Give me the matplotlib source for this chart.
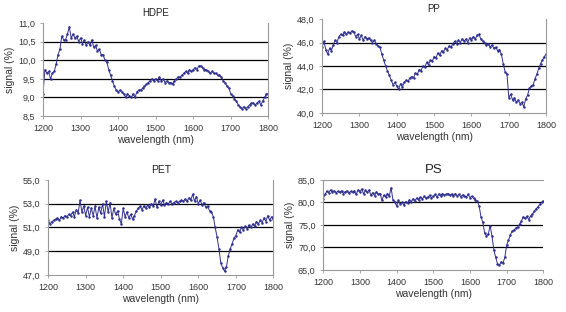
import numpy as np
import matplotlib.pyplot as plt
from matplotlib.ticker import FuncFormatter

plt.rcParams['font.family'] = ['Liberation Sans', 'DejaVu Sans']

# wavelength grid (nm), 5 nm steps
wl = np.arange(1200, 1805, 5)

hdpe = [9.10, 9.75, 9.65, 9.70, 9.50, 9.65, 9.70, 9.90, 10.15, 10.30,
        10.65, 10.55, 10.55, 10.70, 10.90, 10.60, 10.70, 10.60, 10.65, 10.50,
        10.60, 10.45, 10.55, 10.40, 10.50, 10.40, 10.55, 10.35, 10.40, 10.25,
        10.30, 10.15, 10.15, 10.00, 9.95, 9.75, 9.60, 9.45, 9.30, 9.20,
        9.15, 9.20, 9.15, 9.10, 9.00, 9.10, 9.05, 9.00, 9.10, 9.00,
        9.15, 9.20, 9.20, 9.25, 9.30, 9.35, 9.40, 9.45, 9.50, 9.45,
        9.50, 9.45, 9.55, 9.45, 9.50, 9.40, 9.45, 9.40, 9.40, 9.35,
        9.45, 9.50, 9.55, 9.55, 9.60, 9.65, 9.70, 9.65, 9.75, 9.70,
        9.75, 9.80, 9.75, 9.85, 9.85, 9.80, 9.75, 9.75, 9.70, 9.65,
        9.70, 9.65, 9.65, 9.60, 9.60, 9.55, 9.45, 9.40, 9.30, 9.25,
        9.10, 9.05, 8.95, 8.90, 8.80, 8.75, 8.70, 8.75, 8.70, 8.75,
        8.80, 8.85, 8.85, 8.80, 8.85, 8.90, 8.80, 8.90, 9.00, 9.10,
        9.10]

pp = [45.6, 46.1, 45.4, 45.0, 45.5, 45.3, 45.8, 46.2, 46.0, 46.5,
      46.7, 46.6, 46.9, 46.7, 46.9, 46.8, 47.0, 46.9, 46.5, 46.7,
      46.3, 46.6, 46.2, 46.5, 46.3, 46.4, 46.2, 46.0, 46.2, 45.9,
      45.7, 45.6, 45.0, 44.5, 44.0, 43.6, 43.2, 42.8, 42.4, 42.6,
      42.3, 42.0, 42.5, 42.2, 42.6, 42.8, 42.7, 43.0, 43.1, 43.0,
      43.4, 43.3, 43.7, 43.6, 44.0, 43.9, 44.3, 44.1, 44.5, 44.4,
      44.8, 44.7, 45.1, 44.9, 45.3, 45.2, 45.5, 45.4, 45.7, 45.6,
      45.9, 46.1, 45.9, 46.2, 46.0, 46.3, 46.1, 46.3, 46.0, 46.4,
      46.2, 46.5, 46.3, 46.6, 46.7, 46.3, 46.1, 46.0, 45.8, 45.9,
      45.6, 45.8, 45.5, 45.6, 45.3, 45.4, 45.0, 44.2, 43.5, 43.3,
      41.3, 41.6, 41.1, 41.3, 40.9, 41.1, 40.8, 40.9, 40.5, 41.2,
      41.5, 42.1, 42.3, 42.4, 42.9, 43.3, 43.8, 44.2, 44.5, 44.8,
      45.0]

pet = [51.6, 51.3, 51.5, 51.6, 51.7, 51.8, 51.6, 51.9, 51.8, 52.0,
       51.9, 52.1, 52.0, 52.3, 51.9, 52.5, 52.2, 53.3, 52.3, 52.8,
       52.0, 52.7, 51.9, 52.6, 52.0, 52.8, 51.8, 52.7, 52.2, 53.0,
       51.9, 53.2, 52.3, 53.1, 51.8, 52.6, 52.1, 52.4, 51.7, 51.3,
       52.6, 51.9, 52.3, 51.8, 52.1, 51.7, 52.0, 52.4, 52.6, 52.8,
       52.5, 52.8, 52.6, 52.9, 52.7, 53.0, 52.8, 53.4, 52.7, 53.2,
       52.9, 53.3, 52.9, 53.1, 53.0, 53.2, 53.0, 53.1, 53.2, 53.1,
       53.2, 53.3, 53.2, 53.4, 53.2, 53.5, 53.3, 53.8, 53.2, 53.6,
       53.0, 53.3, 52.9, 53.1, 52.7, 52.8, 52.4, 52.3, 51.9, 51.0,
       50.2, 49.2, 48.0, 47.6, 47.3, 47.7, 48.6, 49.2, 49.6, 50.1,
       50.3, 50.8, 50.6, 51.0, 50.8, 51.1, 50.9, 51.2, 51.0, 51.3,
       51.1, 51.5, 51.3, 51.6, 51.4, 51.8, 51.5, 52.0, 51.6, 51.9,
       51.7]

ps = [80.8, 81.8, 82.5, 82.2, 82.8, 82.4, 82.6, 82.2, 82.5, 82.3,
      82.6, 82.0, 82.4, 82.6, 82.1, 82.5, 82.3, 82.6, 81.8, 82.8,
      82.4, 83.0, 81.9, 82.7, 82.3, 82.8, 81.6, 82.2, 81.5, 82.4,
      81.8, 82.0, 80.5, 81.6, 81.2, 82.0, 81.4, 83.3, 80.6, 80.2,
      79.2, 80.5, 79.6, 80.0, 79.4, 80.2, 79.8, 80.6, 80.2, 80.8,
      80.4, 81.0, 80.6, 81.2, 80.8, 81.4, 81.0, 81.2, 81.6, 81.0,
      81.4, 81.8, 81.2, 81.9, 81.5, 82.0, 81.6, 81.8, 82.0, 81.6,
      81.9, 81.4, 82.0, 81.5, 81.8, 81.3, 81.7, 81.5, 81.2, 81.8,
      81.1, 81.4, 80.9, 80.6, 80.3, 79.2, 76.8, 75.6, 73.2, 72.6,
      73.0, 74.8, 72.5, 69.5, 67.8, 66.4, 66.0, 66.8, 66.5, 67.8,
      70.5, 71.6, 72.8, 73.6, 73.9, 74.3, 74.6, 75.2, 75.8, 76.8,
      76.5, 76.9, 76.2, 77.0, 77.4, 78.0, 78.6, 79.0, 79.6, 80.0,
      80.4]

titles = ['HDPE', 'PP', 'PET', 'PS']
series = [hdpe, pp, pet, ps]
ylims = [(8.5, 11.0), (40.0, 48.0), (47.0, 55.0), (65.0, 85.0)]
ysteps = [0.5, 2.0, 2.0, 5.0]

# axes rectangles in figure fractions (from pixel positions)
rects = [(0.076, 0.628, 0.398, 0.298),
         (0.569, 0.638, 0.396, 0.301),
         (0.085, 0.119, 0.398, 0.304),
         (0.571, 0.135, 0.389, 0.288)]
title_sizes = [7, 7, 7.5, 9.5]

fig = plt.figure(figsize=(5.66, 3.12), dpi=100)
comma = FuncFormatter(lambda v, p: f"{v:.1f}".replace('.', ','))

for i in range(4):
    ax = fig.add_axes(rects[i])
    ax.plot(wl, series[i], color='#30308e', lw=0.7, marker='.', ms=1.6)
    lo, hi = ylims[i]
    ax.set_xlim(1200, 1800)
    ax.set_ylim(lo, hi)
    ax.set_xticks(np.arange(1200, 1801, 100))
    ax.set_yticks(np.arange(lo, hi + 0.01, ysteps[i]))
    ax.yaxis.set_major_formatter(comma)
    # black gridlines on the inner ticks only
    for v in np.arange(lo + ysteps[i], hi - 0.01, ysteps[i]):
        ax.axhline(v, color='black', lw=0.9, zorder=0)
    for s in ['left', 'bottom', 'right', 'top']:
        ax.spines[s].set_color('#999999')
        ax.spines[s].set_linewidth(0.8)
    ax.spines['top'].set_visible(i == 3)
    ax.spines['right'].set_visible(i != 3)
    ax.tick_params(labelsize=6.5, colors='#333333', length=2, width=0.6)
    ax.tick_params(axis='both', color='#999999')
    ax.set_xlabel('wavelength (nm)', fontsize=7.5, color='#333333', labelpad=2)
    ax.set_ylabel('signal (%)', fontsize=7.5, color='#333333', labelpad=2)
    ax.set_title(titles[i], fontsize=title_sizes[i], color='#222222', pad=5)

fig.savefig('out.png', dpi=100)
